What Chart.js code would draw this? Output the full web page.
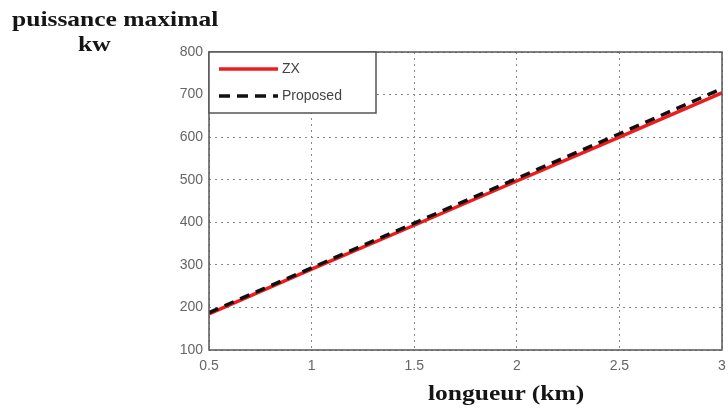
<!DOCTYPE html>
<html>
<head>
<meta charset="utf-8">
<script src="https://cdn.jsdelivr.net/npm/chart.js@4"></script>
<style>
  html, body { margin: 0; padding: 0; background: #fff; }
  #wrap { position: relative; width: 728px; height: 412px; overflow: hidden; }
  .ttl { position: absolute; font-family: "Liberation Serif", "DejaVu Serif", serif; font-weight: bold; color: #151515; font-size: 22px; line-height: 1; white-space: nowrap; transform: scaleX(1.16); transform-origin: 0 0; }
</style>
</head>
<body>
<div id="wrap">
  <canvas id="c" width="728" height="412"></canvas>
  <div class="ttl" style="left:12px; top:8px;">puissance maximal</div>
  <div class="ttl" style="left:78px; top:33px;">kw</div>
  <div class="ttl" style="left:428px; top:382px;">longueur (km)</div>
</div>
<script>
// data
const lengthKm = [0.5, 1, 1.5, 2, 2.5, 3];
const zxPower = [185, 290, 393, 497, 600, 704];
const proposedPower = [188, 293, 398, 503, 608, 714];
const seriesNames = ['ZX', 'Proposed'];

const toPts = (xs, ys) => xs.map((x, i) => ({ x: x, y: ys[i] }));

// box around plot + legend inside top-left
const boxLegend = {
  id: 'boxLegend',
  afterDraw(chart) {
    const { ctx, chartArea: a } = chart;
    ctx.save();
    ctx.strokeStyle = '#555';
    ctx.lineWidth = 1.5;
    ctx.strokeRect(a.left, a.top, a.right - a.left, a.bottom - a.top);

    const lx = a.left, ly = a.top, lw = 167, lh = 61;
    ctx.fillStyle = '#fff';
    ctx.fillRect(lx, ly, lw, lh);
    ctx.strokeRect(lx, ly, lw, lh);

    ctx.lineWidth = 3.5;
    ctx.strokeStyle = '#ee1c1c';
    ctx.beginPath(); ctx.moveTo(lx + 10, ly + 17); ctx.lineTo(lx + 69, ly + 17); ctx.stroke();
    ctx.strokeStyle = '#111';
    ctx.setLineDash([11, 7]);
    ctx.beginPath(); ctx.moveTo(lx + 10, ly + 44); ctx.lineTo(lx + 69, ly + 44); ctx.stroke();
    ctx.setLineDash([]);

    ctx.fillStyle = '#444';
    ctx.font = '14px "Liberation Sans", Arial, sans-serif';
    ctx.textBaseline = 'middle';
    ctx.fillText(seriesNames[0], lx + 73, ly + 17);
    ctx.fillText(seriesNames[1], lx + 73, ly + 44);
    ctx.restore();
  }
};

const gridOpts = { color: '#888', lineWidth: 1, drawTicks: false };
const tickFont = { family: '"Liberation Sans", Arial, sans-serif', size: 14 };

new Chart(document.getElementById('c'), {
  type: 'line',
  data: {
    datasets: [
      {
        label: seriesNames[0],
        data: toPts(lengthKm, zxPower),
        borderColor: '#ee1c1c',
        borderWidth: 3.5,
        pointRadius: 0,
        order: 1
      },
      {
        label: seriesNames[1],
        data: toPts(lengthKm, proposedPower),
        borderColor: '#111',
        borderWidth: 3.5,
        borderDash: [10, 7],
        pointRadius: 0,
        order: 0
      }
    ]
  },
  options: {
    responsive: false,
    animation: false,
    layout: { padding: { left: 0, right: 6, top: 52, bottom: 0 } },
    plugins: { legend: { display: false }, tooltip: { enabled: false } },
    scales: {
      x: {
        type: 'linear',
        min: 0.5, max: 3,
        grid: gridOpts,
        border: { display: false, dash: [2, 4] },
        ticks: {
          stepSize: 0.5, color: '#666', font: tickFont, padding: 8,
          callback: v => String(v)
        },
        afterFit(s) { s.height = 62; s.paddingLeft = 0; s.paddingRight = 0; }
      },
      y: {
        min: 100, max: 800,
        grid: gridOpts,
        border: { display: false, dash: [2, 4] },
        ticks: { stepSize: 100, color: '#666', font: tickFont, padding: 6 },
        afterFit(s) { s.width = 209; s.paddingTop = 0; s.paddingBottom = 0; }
      }
    }
  },
  plugins: [boxLegend]
});
</script>
</body>
</html>
